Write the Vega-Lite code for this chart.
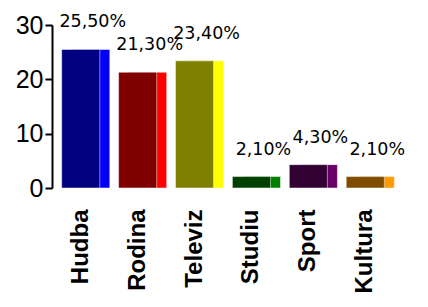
{
  "$schema": "https://vega.github.io/schema/vega-lite/v6.json",
  "width": 342,
  "height": 163,
  "autosize": {"type": "none"},
  "padding": {"left": 52, "top": 25, "right": 34, "bottom": 119},
  "background": "white",
  "config": {"view": {"stroke": null}, "font": "Liberation Sans"},
  "data": {"values": [
    {"cat": "Hudba", "val": 25.5, "label": "25,50%"},
    {"cat": "Rodina", "val": 21.3, "label": "21,30%"},
    {"cat": "Televiz", "val": 23.4, "label": "23,40%"},
    {"cat": "Studiu", "val": 2.1, "label": "2,10%"},
    {"cat": "Sport", "val": 4.3, "label": "4,30%"},
    {"cat": "Kultura", "val": 2.1, "label": "2,10%"}
  ]},
  "encoding": {
    "x": {"field": "cat", "type": "nominal", "sort": null,
      "scale": {"paddingInner": 0.33, "paddingOuter": 0.17},
      "axis": {"title": null, "labelAngle": -90, "labelFontSize": 24, "labelFontWeight": "bold", "labelColor": "black", "domain": false, "ticks": false, "labelPadding": 21}},
    "y": {"field": "val", "type": "quantitative",
      "scale": {"domain": [0, 30]},
      "axis": {"title": null, "values": [0, 10, 20, 30], "grid": false, "labelFontSize": 25, "labelColor": "black", "domainColor": "black", "domainWidth": 2, "tickColor": "black", "tickWidth": 2, "tickSize": 7, "labelPadding": 2}}
  },
  "layer": [
    {
      "mark": {"type": "bar", "xOffset": 10, "stroke": "white", "strokeWidth": 0.5},
      "encoding": {"color": {"field": "cat", "type": "nominal", "legend": null,
        "scale": {"domain": ["Hudba", "Rodina", "Televiz", "Studiu", "Sport", "Kultura"], "range": ["#0000ff", "#ff0000", "#ffff00", "#008000", "#660066", "#ff9900"]}}}
    },
    {
      "mark": {"type": "bar", "stroke": "white", "strokeWidth": 0.5},
      "encoding": {"fill": {"field": "cat", "type": "nominal", "legend": null,
        "scale": {"domain": ["Hudba", "Rodina", "Televiz", "Studiu", "Sport", "Kultura"], "range": ["#000080", "#800000", "#808000", "#004000", "#330033", "#7f4c00"]}}}
    },
    {
      "mark": {"type": "text", "dy": -22, "xOffset": 12, "font": "DejaVu Sans", "fontSize": 17.5, "color": "black", "baseline": "alphabetic"},
      "encoding": {"text": {"field": "label"}}
    }
  ],
  "resolve": {"scale": {"color": "independent", "fill": "independent"}}
}
